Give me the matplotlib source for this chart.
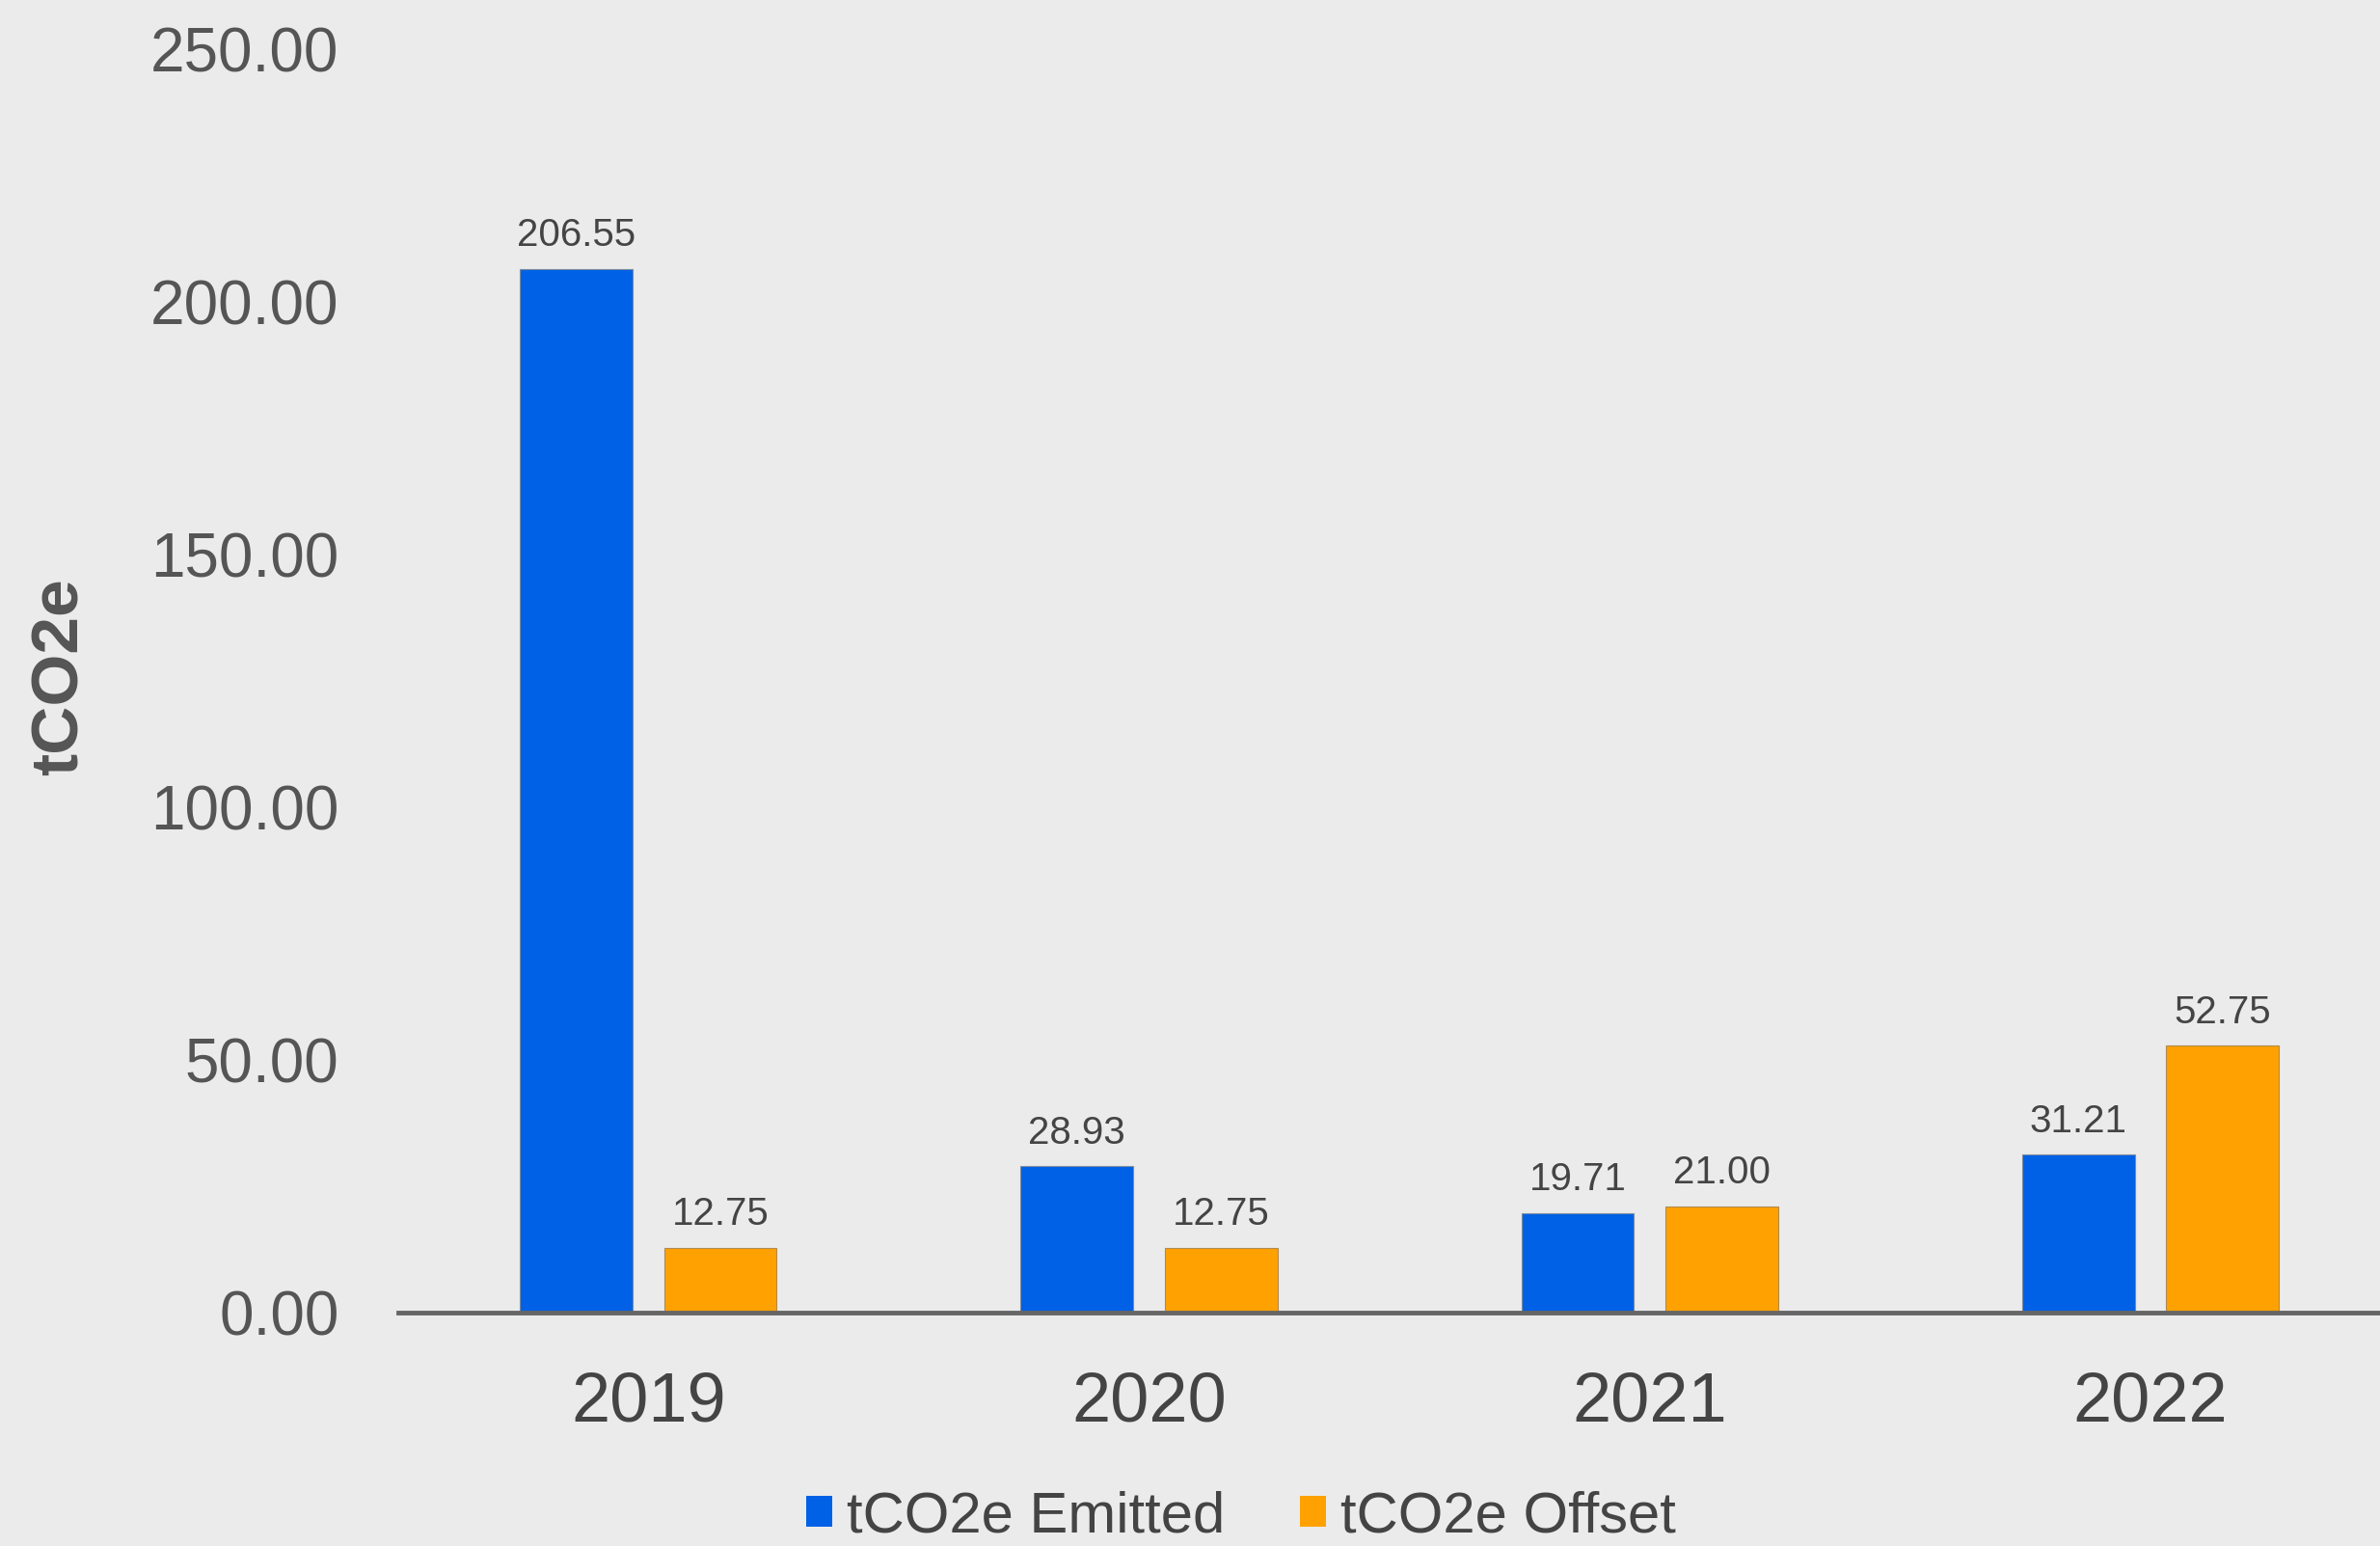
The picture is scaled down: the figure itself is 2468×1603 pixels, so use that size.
import matplotlib
matplotlib.use("Agg")
import matplotlib.pyplot as plt
from matplotlib.patches import Patch
import numpy as np

years = ["2019", "2020", "2021", "2022"]
emitted = [206.55, 28.93, 19.71, 31.21]
offset = [12.75, 12.75, 21.00, 52.75]
series_names = ["tCO2e Emitted", "tCO2e Offset"]
y_ticks = [0, 50, 100, 150, 200, 250]

BG = "#ebebeb"
BLUE = "#0060e6"
ORANGE = "#ffa100"

plt.rcParams["font.family"] = ["Liberation Sans", "DejaVu Sans"]

fig = plt.figure(figsize=(24.68, 16.03), dpi=100, facecolor=BG)
ax = fig.add_axes([0.1672, 0.1511, 0.8416, 0.8171], facecolor=BG)

x = np.arange(len(years))
w = 0.225
off = 0.144
b1 = ax.bar(x - off, emitted, w, color=BLUE, edgecolor="#7a8aa0", linewidth=0.8, zorder=2)
b2 = ax.bar(x + off, offset, w, color=ORANGE, edgecolor="#b08a50", linewidth=0.8, zorder=2)

for bars, vals in ((b1, emitted), (b2, offset)):
    for r, v in zip(bars, vals):
        ax.annotate(f"{v:.2f}", (r.get_x() + r.get_width() / 2, v),
                    xytext=(0, 17), textcoords="offset points",
                    ha="center", va="baseline", fontsize=29, color="#444444")

ax.set_xlim(-0.5, 3.5)
ax.set_ylim(0, 250)
ax.set_xticks(x)
ax.set_xticklabels(years, fontsize=52, color="#444444")
ax.set_yticks(y_ticks)
ax.set_yticklabels([f"{t:.2f}" for t in y_ticks], fontsize=46, color="#555555")
ax.tick_params(axis="both", length=0)
ax.tick_params(axis="x", pad=44)
ax.tick_params(axis="y", pad=44)

for s in ["top", "right", "left"]:
    ax.spines[s].set_visible(False)
ax.spines["bottom"].set_color("#666666")
ax.spines["bottom"].set_linewidth(3.5)
ax.spines["bottom"].set_zorder(3)

fig.text(0.0255, 0.562, "tCO2e", rotation=90, ha="center", va="center",
         fontsize=50, fontweight="bold", color="#555555")

handles = [Patch(facecolor=BLUE, edgecolor="none"), Patch(facecolor=ORANGE, edgecolor="none")]
fig.legend(handles, series_names, loc="center", bbox_to_anchor=(0.5215, 0.019),
           ncol=2, frameon=False, fontsize=43, handlelength=0.45, handleheight=0.45,
           handletextpad=0.26, columnspacing=1.3, borderpad=0, labelcolor="#444444")

fig.savefig("out.png", dpi=100, facecolor=BG)
